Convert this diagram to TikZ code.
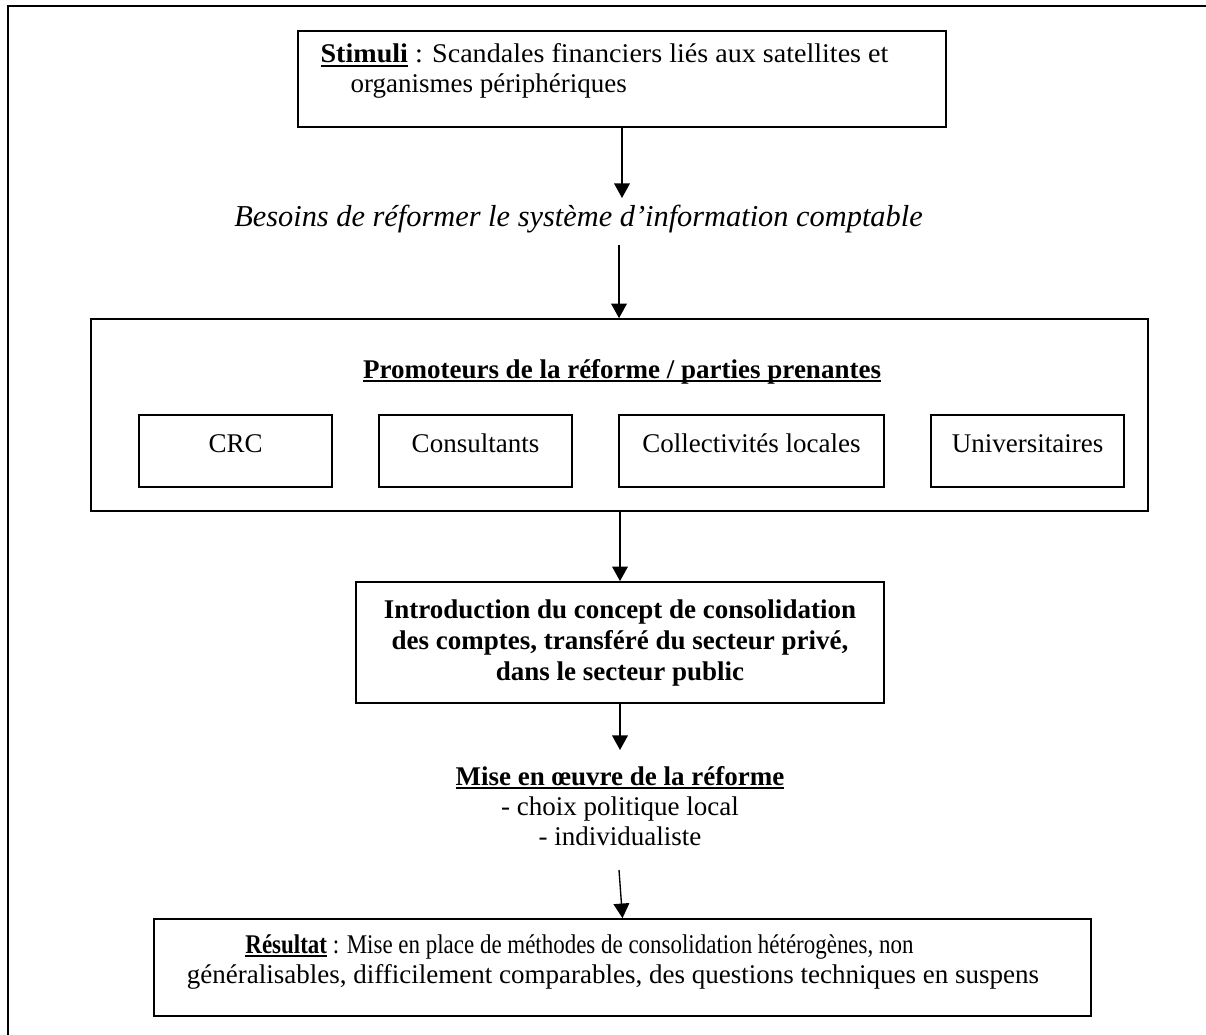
\documentclass[tikz,border=0pt]{standalone}
\usepackage{fontspec}
\setmainfont{Liberation Serif}
\usetikzlibrary{arrows.meta}
\newcommand{\souligne}[1]{\setbox0\hbox{#1}\rlap{\rule[-1.7pt]{\wd0}{0.75pt}}\box0\relax}

\begin{document}
\begin{tikzpicture}[x=0.4444pt,y=-0.4444pt,
    every node/.style={inner sep=0pt,font=\fontsize{12}{13.8}\selectfont},
    boite/.style={draw,line width=0.75pt,minimum height=#1},
    ligne/.style={anchor=base},
    fleche/.style={line width=0.6pt,-{Triangle[width=7pt,length=6.5pt]}}]
  \useasboundingbox (0,0) rectangle (1206,1035);
  % cadre
  \draw[line width=1pt] (1206,6) -- (8,6) -- (8,1035);

      \draw (622,79) node[boite=42.7pt,minimum width=288pt] (stimuli) {};
  \draw (604.5,63) node[ligne] (stimA) {\scalebox{1.04}[1]{\souligne{\textbf{Stimuli}} : Scandales financiers liés aux satellites et}};
  \draw ([shift={(30,30)}]stimA.base west) node[anchor=base west] (stimB) {organismes périphériques};

      \draw (578.5,227) node[ligne,font=\fontsize{13.5}{15}\selectfont] (besoins) {\textit{Besoins de réformer le système d’information comptable}};

      \draw (619.5,415) node[boite=85.3pt,minimum width=469.8pt] (promoteurs) {};
  \draw (622,378) node[ligne] (titre) {\souligne{\textbf{Promoteurs de la réforme / parties prenantes}}};
      \draw (235.7,451) node[boite=32pt,minimum width=85.8pt] (crc) {};
  \draw (475.5,451) node[boite=32pt,minimum width=85.8pt] (consultants) {};
      \draw (751.5,451) node[boite=32pt,minimum width=117.8pt] (collectivites) {};
  \draw (1027.5,451) node[boite=32pt,minimum width=85.8pt] (universitaires) {};
  \draw (crc.center |- 0,452) node[ligne] {CRC};
  \draw (consultants.center |- 0,452) node[ligne] {Consultants};
  \draw (collectivites.center |- 0,452) node[ligne] {Collectivités locales};
  \draw (universitaires.center |- 0,452) node[ligne] {Universitaires};

      \draw (620,642.5) node[boite=53.8pt,minimum width=234.7pt] (intro) {};
  \draw (620,618) node[ligne] (introA) {\textbf{Introduction du concept de consolidation}};
  \draw (620,649) node[ligne] (introB) {\textbf{des comptes, transféré du secteur privé,}};
  \draw (620,680) node[ligne] (introC) {\textbf{dans le secteur public}};

      \draw (620,785) node[ligne] (mise) {\souligne{\textbf{Mise en œuvre de la réforme}}};
  \draw (620,815) node[ligne] (choix) {- choix politique local};
  \draw (620,845) node[ligne] (indiv) {- individualiste};

      \draw (622.5,967.5) node[boite=43.1pt,minimum width=416.4pt] (resultat) {};
  \draw (245,953) node[anchor=base west] (resA) {\scalebox{0.85}[1]{\souligne{\textbf{Résultat}} : Mise en place de méthodes de consolidation hétérogènes, non}};
  \draw (613,983) node[ligne] (resB) {généralisables, difficilement comparables, des questions techniques en suspens};

  % fleches
  \coordinate (b1) at (622,198);
  \coordinate (b2) at (619,245);
  \coordinate (m1) at (620,750);
  \coordinate (r1) at (619,870);
      \draw[fleche] (stimuli.south) -- (b1);
  \draw[fleche] (b2) -- (b2 |- promoteurs.north);
      \draw[fleche] (intro.north |- promoteurs.south) -- (intro.north);
  \draw[fleche] (intro.south) -- (m1);
      \draw[fleche] (r1) -- (resultat.north);
\end{tikzpicture}
\end{document}
